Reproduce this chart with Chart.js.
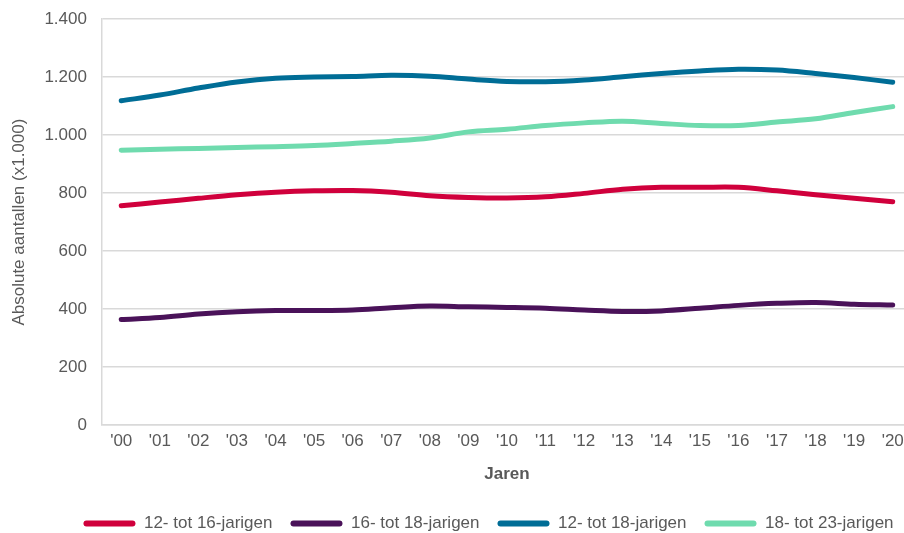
<!DOCTYPE html>
<html>
<head>
<meta charset="utf-8">
<script src="https://cdn.jsdelivr.net/npm/chart.js@4"></script>
<style>
  html, body { margin: 0; padding: 0; overflow: hidden; background: #fff; }
  #wrap { width: 920px; height: 542px; }
</style>
</head>
<body>
<div id="wrap"><canvas id="jongerenChart"></canvas></div>
<script>
const jaren = ["'00", "'01", "'02", "'03", "'04", "'05", "'06", "'07", "'08", "'09", "'10",
               "'11", "'12", "'13", "'14", "'15", "'16", "'17", "'18", "'19", "'20"];

const jarigen12tot16 = [756, 769, 782, 794, 803, 808, 809, 803, 791, 785, 783, 787, 799, 813, 820, 820, 820, 808, 794, 782, 770];
const jarigen16tot18 = [364, 371, 383, 391, 395, 395, 397, 405, 411, 408, 406, 403, 397, 392, 394, 403, 413, 420, 423, 417, 414];
const jarigen12tot18 = [1118, 1138, 1162, 1183, 1196, 1200, 1202, 1206, 1203, 1193, 1185, 1184, 1190, 1201, 1212, 1221, 1227, 1224, 1212, 1198, 1182];
const jarigen18tot23 = [948, 951, 954, 957, 960, 964, 971, 979, 990, 1011, 1020, 1033, 1042, 1048, 1040, 1033, 1033, 1045, 1056, 1078, 1098];

const tekstKleur = '#595959';
const rasterKleur = '#d9d9d9';
const lettertype = 'Liberation Sans, Arial, sans-serif';

function lijn(label, data, kleur) {
    return {
        label: label,
        data: data,
        borderColor: kleur,
        backgroundColor: kleur,
        borderWidth: 5,
        borderCapStyle: 'round',
        pointRadius: 0,
        tension: 0.35,
        fill: false
    };
}

// schuift de legenda iets naar rechts, zoals in het origineel
const legendaVerschuiving = {
    id: 'legendaVerschuiving',
    afterLayout(chart) {
        chart.legend.left += 28;
        chart.legend.right += 28;
    }
};

const ctx = document.getElementById('jongerenChart').getContext('2d');
const jongerenChart = new Chart(ctx, {
    type: 'line',
    data: {
        labels: jaren,
        datasets: [
            lijn('12- tot 16-jarigen', jarigen12tot16, '#d0003c'),
            lijn('16- tot 18-jarigen', jarigen16tot18, '#4a1259'),
            lijn('12- tot 18-jarigen', jarigen12tot18, '#006d96'),
            lijn('18- tot 23-jarigen', jarigen18tot23, '#6fdbae')
        ]
    },
    options: {
        responsive: true,
        maintainAspectRatio: false,
        animation: false,
        layout: {
            padding: { top: 19, left: 9, right: 8, bottom: 0 }
        },
        plugins: {
            tooltip: { enabled: false },
            legend: {
                position: 'bottom',
                labels: {
                    boxWidth: 52,
                    boxHeight: 6,
                    useBorderRadius: true,
                    borderRadius: 3,
                    padding: 18,
                    color: tekstKleur,
                    font: { family: lettertype, size: 17 },
                    generateLabels(chart) {
                        const items = Chart.defaults.plugins.legend.labels.generateLabels(chart);
                        items.forEach(item => { item.lineWidth = 0; });
                        return items;
                    }
                }
            }
        },
        scales: {
            x: {
                offset: true,
                grid: { display: false, drawTicks: false },
                border: { display: true, color: rasterKleur, width: 1.5 },
                ticks: {
                    autoSkip: false,
                    maxRotation: 0,
                    padding: 6,
                    color: tekstKleur,
                    font: { family: lettertype, size: 17 }
                },
                title: {
                    display: true,
                    text: 'Jaren',
                    color: tekstKleur,
                    padding: { top: 7, bottom: 12 },
                    font: { family: lettertype, size: 17, weight: 'bold' }
                }
            },
            y: {
                min: 0,
                max: 1400,
                afterFit(scale) {
                    scale.paddingTop = 0;
                },
                grid: { color: rasterKleur, lineWidth: 1.5, drawTicks: false },
                border: { display: true, color: rasterKleur, width: 1.5 },
                ticks: {
                    stepSize: 200,
                    padding: 15,
                    color: tekstKleur,
                    font: { family: lettertype, size: 17 },
                    callback: function (value) {
                        if (value >= 1000) {
                            return Math.floor(value / 1000) + '.' + String(value % 1000).padStart(3, '0');
                        }
                        return String(value);
                    }
                },
                title: {
                    display: true,
                    text: 'Absolute aantallen (x1.000)',
                    color: tekstKleur,
                    padding: { top: 0, bottom: 0 },
                    font: { family: lettertype, size: 17 }
                }
            }
        }
    },
    plugins: [legendaVerschuiving]
});
</script>
</body>
</html>
